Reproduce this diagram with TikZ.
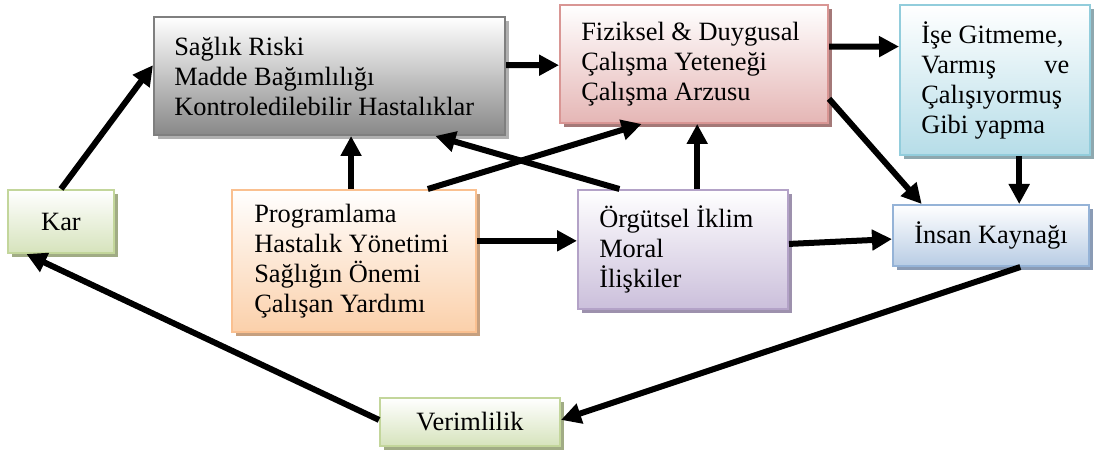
\documentclass[tikz,border=0pt]{standalone}
\usepackage{fontspec}
\setmainfont{Liberation Serif}
\usetikzlibrary{arrows.meta,calc,shadows}

% box outlines, gradient ends and shadows
\definecolor{grayLine}{HTML}{7F7F7F}\definecolor{grayEnd}{HTML}{888888}\definecolor{grayShade}{HTML}{B0B0B0}
\definecolor{pinkLine}{HTML}{D99694}\definecolor{pinkEnd}{HTML}{E5B6B5}\definecolor{pinkShade}{HTML}{A47978}
\definecolor{cyanLine}{HTML}{92CDDC}\definecolor{cyanEnd}{HTML}{B6DDE8}\definecolor{cyanShade}{HTML}{8EA8AF}
\definecolor{peachLine}{HTML}{FAC090}\definecolor{peachEnd}{HTML}{FBD0AA}\definecolor{peachShade}{HTML}{C6A07F}
\definecolor{lilacLine}{HTML}{B3A2C7}\definecolor{lilacEnd}{HTML}{CBBFDB}\definecolor{lilacShade}{HTML}{9D91AD}
\definecolor{greenLine}{HTML}{C3D69B}\definecolor{greenEnd}{HTML}{D6E3BC}\definecolor{greenShade}{HTML}{A1AC85}
\definecolor{blueLine}{HTML}{95B3D7}\definecolor{blueEnd}{HTML}{B8CCE4}\definecolor{blueShade}{HTML}{8A9BB5}

\begin{document}
\begin{tikzpicture}[x=0.75pt,y=-0.75pt,
  panel/.style n args={3}{draw=#1, line width=1.5pt, top color=white, bottom color=#2,
    inner sep=0pt,
    drop shadow={shadow xshift=3pt, shadow yshift=-3pt, fill=#3, opacity=1}},
  boxfont/.style={font=\fontsize{19.8}{22.5}\selectfont},
  txt/.style={boxfont, align=left, inner sep=0pt, anchor=west},
  conn/.style={line width=4.5pt, -{Triangle[length=15pt,width=15pt]}}]

\useasboundingbox (0,0) rectangle (1095,452);

% boxes
\node[panel={grayLine}{grayEnd}{grayShade}, minimum width=263.25pt, minimum height=88.5pt] (A) at (329.5,76) {};
\node[panel={pinkLine}{pinkEnd}{pinkShade}, minimum width=201pt, minimum height=88.5pt] (B) at (694,64) {};
\node[panel={cyanLine}{cyanEnd}{cyanShade}, minimum width=142.5pt, minimum height=112.5pt] (C) at (995,80) {};
\node[panel={peachLine}{peachEnd}{peachShade}, minimum width=183pt, minimum height=106.5pt] (D) at (354,261) {};
\node[panel={lilacLine}{lilacEnd}{lilacShade}, minimum width=157.5pt, minimum height=89.25pt] (E) at (683,249.5) {};
\node[panel={greenLine}{greenEnd}{greenShade}, boxfont, minimum width=79.5pt, minimum height=47.25pt] (F) at (61,221.5) {Kar};
\node[panel={greenLine}{greenEnd}{greenShade}, boxfont, minimum width=135pt, minimum height=36pt] (G) at (470,422) {Verimlilik};
\node[panel={blueLine}{blueEnd}{blueShade}, boxfont, minimum width=147pt, minimum height=45.75pt] (H) at (991,235.5) {İnsan Kaynağı};

% box texts
\node[txt] (At) at ($(A.west)+(21,0)$) {Sağlık Riski\\Madde Bağımlılığı\\Kontroledilebilir Hastalıklar};
\node[txt] (Bt) at ($(B.west)+(22,0)$) {Fiziksel \& Duygusal\\Çalışma Yeteneği\\Çalışma Arzusu};
\node[txt] (Ct) at ($(C.west)+(22,0)$) {İşe Gitmeme,\\\makebox[111pt][l]{Varmış\hfill ve}\\Çalışıyormuş\\Gibi yapma};
\node[txt] (Dt) at ($(D.west)+(23,0)$) {Programlama\\Hastalık Yönetimi\\Sağlığın Önemi\\Çalışan Yardımı};
\node[txt] (Et) at ($(E.west)+(22,0)$) {Örgütsel İklim\\Moral\\İlişkiler};

% connectors
\draw[conn] (F.north) -- ($(A.north west)!0.41!(A.south west)$);
\draw[conn] ($(A.north east)!0.41!(A.south east)$) -- ($(B.north west)!0.51!(B.south west)$);
\draw[conn] ($(B.north east)!0.356!(B.south east)$) -- ($(C.north west)!0.28!(C.south west)$);
\draw[conn] ($(B.north east)!0.79!(B.south east)$) -- ($(H.north west)!0.15!(H.north east)$);
\coordinate (p5) at ($(C.south west)!0.626!(C.south east)$);
\draw[conn] (p5) -- (p5 |- H.north);
\coordinate (p6) at ($(D.north west)!0.488!(D.north east)$);
\draw[conn] (p6) -- (p6 |- A.south);
\draw[conn] ($(D.north west)!0.80!(D.north east)$) -- ($(B.south west)!0.306!(B.south east)$);
\draw[conn] ($(E.north west)!0.2!(E.north east)$) -- ($(A.south west)!0.80!(A.south east)$);
\coordinate (p9) at ($(E.north west)!0.567!(E.north east)$);
\draw[conn] (p9) -- (p9 |- B.south);
\coordinate (p10) at ($(D.north east)!0.36!(D.south east)$);
\draw[conn] (p10) -- (p10 -| E.west);
\draw[conn] ($(E.north east)!0.454!(E.south east)$) -- ($(H.north west)!0.557!(H.south west)$);
\draw[conn] ($(H.south west)!0.648!(H.south east)$) -- ($(G.north east)!0.458!(G.south east)$);
\draw[conn] ($(G.north west)!0.458!(G.south west)$) -- ($(F.south west)!0.18!(F.south east)$);

\end{tikzpicture}
\end{document}
